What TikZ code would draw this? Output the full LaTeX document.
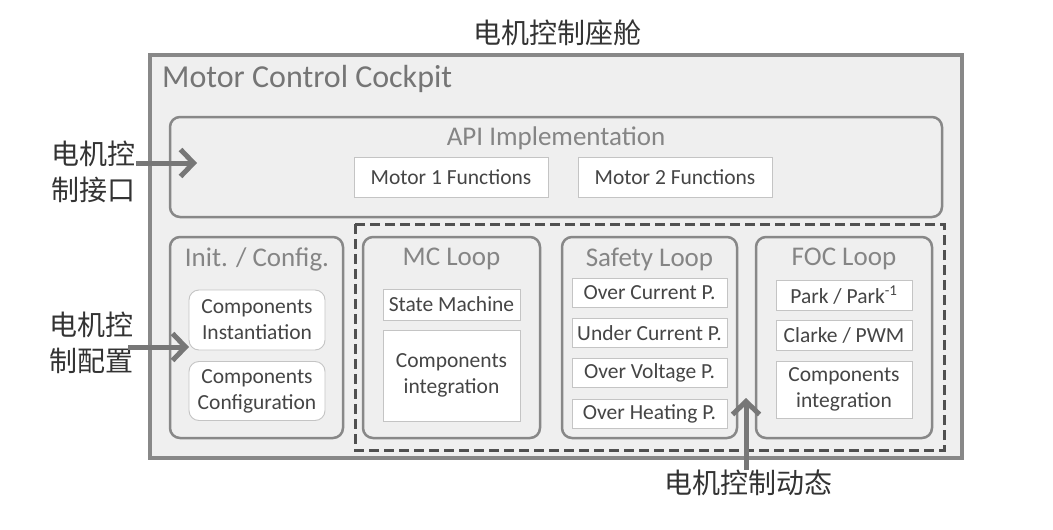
\documentclass[tikz,border=0pt]{standalone}
\usepackage{fontspec}
\setmainfont{Carlito}
\newfontfamily\cjk{Noto Sans CJK SC}
\usepackage{xcolor}
\usetikzlibrary{arrows.meta,positioning}

\definecolor{paneledge}{HTML}{888888}
\definecolor{panelfill}{HTML}{EFEFEF}
\definecolor{titlegray}{HTML}{858585}
\definecolor{itemgray}{HTML}{454545}
\definecolor{itemedge}{HTML}{C4C4C4}
\definecolor{dyngray}{HTML}{505050}
\definecolor{cuegray}{HTML}{777777}

\begin{document}
\begin{tikzpicture}[
    x=1pt, y=-1pt,
    cockpit/.style={draw=paneledge, fill=panelfill, line width=4.5pt,
                    inner sep=0pt},
    panel/.style={rounded corners=10pt, draw=paneledge, fill=panelfill,
                  line width=2.5pt, inner sep=0pt},
    item/.style={draw=itemedge, fill=white, line width=0.9pt, inner sep=0pt,
                 align=center, text=itemgray,
                 font=\fontsize{21.5}{26}\selectfont},
    rounditem/.style={item, rounded corners=10pt},
    paneltitle/.style={text=titlegray, inner sep=0pt,
                       font=\fontsize{27}{30}\selectfont},
    cue/.style={text=black!80, align=center, inner sep=0pt,
                font=\cjk\fontsize{28}{36}\selectfont},
    cuearrow/.style={-{Straight Barb[length=13pt,width=27pt]},
                     line width=5pt, cuegray},
]
\useasboundingbox (0,0) rectangle (1053,530);

% --- outer cockpit frame ---
\node[cockpit, minimum width=812pt, minimum height=403pt] (cockpit) at (556,256.5) {};
\node[cue] (title) at (557,33) {电机控制座舱};
\node[anchor=west, inner sep=0pt, text=black!54,
      font=\fontsize{32}{34}\selectfont] (cockpitname) at (162,79) {Motor Control Cockpit};

% --- API implementation ---
\node[panel, minimum width=772pt, minimum height=100pt] (api) at (556,167) {};
\node[paneltitle] (apititle) at (556,138) {API Implementation};
\node[item, minimum width=194pt, minimum height=40pt] (motorA) at (451,177) {Motor 1 Functions};
\node[item, minimum width=194pt, minimum height=40pt] (motorB) at (675,177) {Motor 2 Functions};

% --- init / config ---
\node[panel, minimum width=173pt, minimum height=201pt] (init) at (256.5,337.5) {};
\node[paneltitle] (inittitle) at (257,259) {Init. / Config.};
\node[rounditem, minimum width=136pt, minimum height=60pt] (inst) at (257,320) {Components\\Instantiation};
\node[rounditem, minimum width=136pt, minimum height=59pt] (conf) at (257,391) {Components\\Configuration};

% --- dynamic part (dashed) ---
\draw[dyngray, line width=3pt, dash pattern=on 10pt off 5pt]
  (355,224) rectangle (944,450);
\coordinate (dyn) at (649.5,337);

% --- MC loop ---
\node[panel, minimum width=177pt, minimum height=201pt] (mc) at (451.5,337.5) {};
\node[paneltitle] (mctitle) at (451.5,259) {MC Loop};
\node[item, minimum width=137pt, minimum height=31pt] (fsm) at (451.5,304.5) {State Machine};
\node[item, minimum width=137pt, minimum height=91pt] (mcint) at (451.5,375.5) {Components\\integration};

% --- safety loop ---
\node[panel, minimum width=175pt, minimum height=201pt] (safety) at (649.5,337.5) {};
\node[paneltitle] (safetytitle) at (649.5,259) {Safety Loop};
\foreach \name/\txt/\yy in {oc/Over Current P./293, uc/Under Current P./333,
                            ov/Over Voltage P./373, oh/Over Heating P./414}
  \node[item, minimum width=155pt, minimum height=29pt] (\name) at (649.5,\yy) {\txt};

% --- FOC loop ---
\node[panel, minimum width=176pt, minimum height=201pt] (foc) at (844,337.5) {};
\node[paneltitle] (foctitle) at (844,259) {FOC Loop};
\node[item, minimum width=136pt, minimum height=30pt] (park) at (844,295) {Park / Park\textsuperscript{-1}};
\node[item, minimum width=136pt, minimum height=30pt] (clarke) at (844,335) {Clarke / PWM};
\node[item, minimum width=136pt, minimum height=57pt] (focint) at (844,389.5) {Components\\integration};

% --- cues with arrows ---
\node[cue, anchor=east] (ifcue) at (136,172) {电机控\\制接口};
\node[cue, anchor=east] (cfgcue) at (134,343) {电机控\\制配置};
\node[cue] (dyncue) at (748,483) {电机控制动态};

\coordinate (iftip) at (197,163);
\coordinate (cfgtip) at (189,347);
\coordinate (dyntip) at (746,398);

\draw[cuearrow] (ifcue.east |- iftip) -- (iftip);
\draw[cuearrow] ([xshift=-6pt]cfgcue.east |- cfgtip) -- (cfgtip);
\draw[cuearrow] (dyncue.north -| dyntip) -- (dyntip);
\end{tikzpicture}
\end{document}
